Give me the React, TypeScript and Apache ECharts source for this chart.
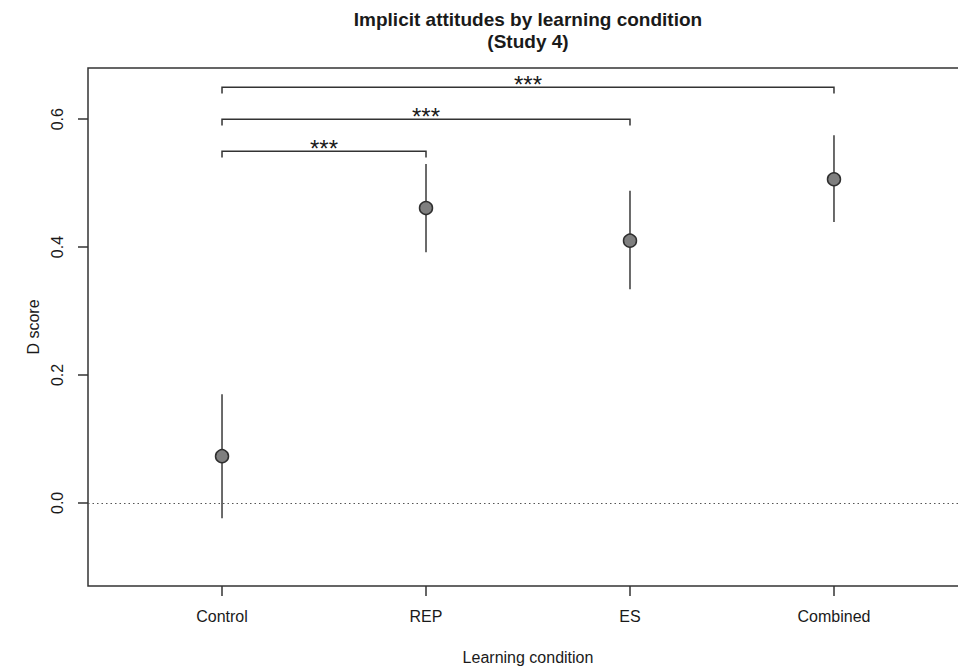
import React, { useEffect, useRef } from "react";
import * as echarts from "echarts";

// ---- data ----
const conditions = ["Control", "REP", "ES", "Combined"];
const conditionPos = [1, 2, 3, 4];
const meanScores = [0.073, 0.461, 0.41, 0.506];
const ciLower = [-0.024, 0.392, 0.334, 0.439];
const ciUpper = [0.17, 0.53, 0.488, 0.575];

const bracketFrom = [1, 1, 1];
const bracketTo = [2, 3, 4];
const bracketY = [0.55, 0.6, 0.65];
const bracketDrop = [0.01, 0.01, 0.01];
const bracketLabels = ["***", "***", "***"];

const yTicks = [0, 0.2, 0.4, 0.6];

const FONT = "'Liberation Sans', Arial, Helvetica, sans-serif";
const INK = "#1a1a1a";
const LINE = "#333333";

export default function App() {
  const ref = useRef<HTMLDivElement>(null);

  useEffect(() => {
    if (!ref.current) return;
    const chart = echarts.init(ref.current, undefined, { renderer: "svg" });

    const errData = conditionPos.map((x, i) => [x, ciLower[i], ciUpper[i]]);
    const pointData = conditionPos.map((x, i) => [x, meanScores[i]]);
    const bracketData = bracketFrom.map((f, i) => [f, bracketTo[i], bracketY[i], bracketDrop[i], i]);

    chart.setOption({
      animation: false,
      backgroundColor: "#ffffff",
      textStyle: { fontFamily: FONT },
      grid: {
        left: 88,
        top: 68,
        width: 880,
        height: 518,
        outerBoundsMode: "none",
        containLabel: false,
        show: true,
        borderColor: LINE,
        borderWidth: 1.5,
        backgroundColor: "transparent",
      },
      xAxis: {
        type: "value",
        min: 0.343,
        max: 4.657,
        axisLine: { show: false, onZero: false },
        splitLine: { show: false },
        axisTick: {
          show: true,
          customValues: conditionPos,
          length: 10,
          lineStyle: { color: LINE, width: 1.5 },
        },
        axisLabel: {
          customValues: conditionPos,
          formatter: (v: number) => conditions[Math.round(v) - 1] ?? "",
          fontSize: 16,
          color: INK,
          fontFamily: FONT,
          margin: 22,
        },
      },
      yAxis: {
        type: "value",
        min: -0.13,
        max: 0.68,
        axisLine: { show: false, onZero: false },
        splitLine: { show: false },
        axisTick: {
          show: true,
          customValues: yTicks,
          length: 10,
          lineStyle: { color: LINE, width: 1.5 },
        },
        axisLabel: {
          customValues: yTicks,
          formatter: (v: number) => v.toFixed(1),
          rotate: 90,
          fontSize: 16,
          color: INK,
          fontFamily: FONT,
          margin: 23,
        },
      },
      graphic: [
        {
          type: "text",
          style: {
            text: "Implicit attitudes by learning condition",
            x: 528,
            y: 19,
            fill: INK,
            font: `bold 19px ${FONT}`,
            align: "center",
            verticalAlign: "middle",
          },
        },
        {
          type: "text",
          style: {
            text: "(Study 4)",
            x: 528,
            y: 41,
            fill: INK,
            font: `bold 19px ${FONT}`,
            align: "center",
            verticalAlign: "middle",
          },
        },
        {
          type: "text",
          style: {
            text: "Learning condition",
            x: 528,
            y: 657,
            fill: INK,
            font: `16px ${FONT}`,
            align: "center",
            verticalAlign: "middle",
          },
        },
        {
          type: "text",
          x: 33,
          y: 327,
          rotation: Math.PI / 2,
          style: {
            text: "D score",
            x: 0,
            y: 0,
            fill: INK,
            font: `16px ${FONT}`,
            align: "center",
            verticalAlign: "middle",
          },
        },
      ],
      series: [
        {
          type: "custom",
          name: "ci",
          data: errData,
          z: 2,
          renderItem: (params: any, api: any) => {
            const x = api.value(0);
            const lo = api.coord([x, api.value(1)]);
            const hi = api.coord([x, api.value(2)]);
            return {
              type: "line",
              shape: { x1: lo[0], y1: lo[1], x2: hi[0], y2: hi[1] },
              style: { stroke: "#3a3a3a", lineWidth: 1.5 },
            };
          },
        },
        {
          type: "custom",
          name: "brackets",
          data: bracketData,
          z: 2,
          renderItem: (params: any, api: any) => {
            const f = api.value(0);
            const t = api.value(1);
            const y = api.value(2);
            const d = api.value(3);
            const idx = api.value(4);
            const p1 = api.coord([f, y - d]);
            const p2 = api.coord([f, y]);
            const p3 = api.coord([t, y]);
            const p4 = api.coord([t, y - d]);
            return {
              type: "group",
              children: [
                {
                  type: "polyline",
                  shape: { points: [p1, p2, p3, p4] },
                  style: { stroke: LINE, lineWidth: 1.5, fill: "none" },
                },
                {
                  type: "text",
                  style: {
                    text: bracketLabels[idx],
                    x: (p2[0] + p3[0]) / 2,
                    y: p2[1] - 3,
                    fill: INK,
                    font: `24px ${FONT}`,
                    align: "center",
                    verticalAlign: "middle",
                  },
                },
              ],
            };
          },
        },
        {
          type: "scatter",
          name: "mean",
          data: pointData,
          symbol: "circle",
          symbolSize: 13,
          z: 3,
          itemStyle: { color: "#7f7f7f", borderColor: "#2f2f2f", borderWidth: 1.5, opacity: 1 },
          markLine: {
            silent: true,
            symbol: "none",
            label: { show: false },
            lineStyle: { color: "#555", width: 1, type: [1.5, 3] },
            data: [{ yAxis: 0 }],
          },
        },
      ],
    });

    return () => chart.dispose();
  }, []);

  return (
    <div
      ref={ref}
      style={{ position: "fixed", left: 0, top: 0, width: 958, height: 668, background: "#fff" }}
    />
  );
}
